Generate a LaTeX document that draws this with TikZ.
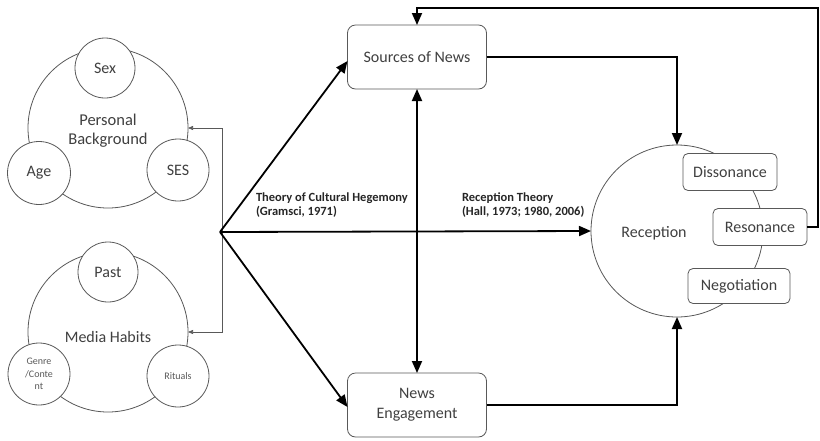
\documentclass[tikz,border=0pt]{standalone}
\usepackage{fontspec}
\setmainfont{Carlito}
\usetikzlibrary{arrows.meta}
\begin{document}
\begin{tikzpicture}[x=1pt,y=-1pt,
  every node/.style={inner sep=0pt, outer sep=0pt},
  bigcirc/.style={circle, draw=black!65, line width=0.8pt, fill=white, text=black!75, align=center, font=\fontsize{16}{18}\selectfont},
  smallcirc/.style={circle, draw=black!65, line width=0.8pt, fill=white, text=black!75, align=center, font=\fontsize{16}{18}\selectfont, minimum size=60pt},
  mainbox/.style={rectangle, rounded corners=8pt, draw=black!65, line width=0.8pt, fill=white, text=black!75, align=center, minimum width=139pt, minimum height=64pt, font=\fontsize{16}{20}\selectfont},
  subbox/.style={rectangle, rounded corners=5pt, draw=black!65, line width=0.8pt, fill=white, text=black!75, align=center, minimum width=94pt, minimum height=37pt, font=\fontsize{16}{18}\selectfont},
  thick arrow/.style={line width=1.8pt, -{Triangle[length=12pt,width=10pt]}},
  thin arrow/.style={line width=0.6pt, draw=black!65, -{Triangle[length=5pt,width=4pt]}},
  theory/.style={font=\bfseries\fontsize{12.5}{14}\selectfont, align=left, anchor=north west, text=black!85}
]
\useasboundingbox (0,0) rectangle (820,440);

% Personal background
\node[bigcirc, minimum size=160pt] (PB) at (108,128) {};
\node[smallcirc] (Sex) at (105,68) {Sex};
\node[smallcirc, minimum size=63pt] (Age) at (39,173) {Age};
\node[smallcirc, minimum size=62pt] (SES) at (178,170) {SES};
\node[text=black!75, align=center, font=\fontsize{16.5}{19}\selectfont] (PBt) at (108,131) {Personal\\Background};

% Media habits
\node[bigcirc, minimum size=160pt] (MH) at (108,332) {};
\node[smallcirc] (Past) at (108,272) {Past};
\node[smallcirc, minimum size=62pt, font=\fontsize{10}{12.5}\selectfont, text=black!65] (Genre) at (39,374) {Genre\\/Conte\\nt};
\node[smallcirc, minimum size=62pt, font=\fontsize{10}{12}\selectfont, text=black!65] (Rit) at (178,376) {Rituals};
\node[text=black!75, font=\fontsize{16}{18}\selectfont] (MHt) at (108,337) {Media Habits};

% Junction
\coordinate (J) at (220,232);
\coordinate (T) at (222,232);

% Boxes
\node[mainbox] (SN) at (417,57) {Sources of News};
\node[mainbox] (NE) at (417,405) {News\\Engagement};

% Reception
\node[circle, draw=black!65, line width=0.8pt, fill=white, minimum size=172pt] (R) at (677,231) {};
\node[text=black!75, font=\fontsize{16}{18}\selectfont] (Rt) at (654,233) {Reception};
\node[subbox] (Dis) at (730,172) {Dissonance};
\node[subbox] (Res) at (760,227) {Resonance};
\node[subbox, minimum width=102pt, minimum height=35pt] (Neg) at (739,286) {Negotiation};

% Thin feedback arrows
\draw[thin arrow] (T) |- (PB.east);
\draw[thin arrow] (T) |- (MH.east);

% Thick arrows
\draw[thick arrow] (J) -- ([yshift=-4pt]SN.west);
\draw[thick arrow] (J) -- ([yshift=-2pt]NE.west);
\draw[thick arrow] (J) -- (R.west);
\draw[line width=1.8pt, {Triangle[length=12pt,width=10pt]}-{Triangle[length=12pt,width=10pt]}] (SN.south) -- (NE.north);
\draw[thick arrow] (SN.east) -| (R.north);
\draw[thick arrow] (NE.east) -| (R.south);
\coordinate (C1) at (818,8);
\draw[thick arrow] (Res.east) -| (C1) -| (SN.north);

% Labels
\node[theory] (L1) at (256,193) {Theory of Cultural Hegemony\\(Gramsci, 1971)};
\node[theory] (L2) at (462,193) {Reception Theory\\(Hall, 1973; 1980, 2006)};
\end{tikzpicture}
\end{document}
